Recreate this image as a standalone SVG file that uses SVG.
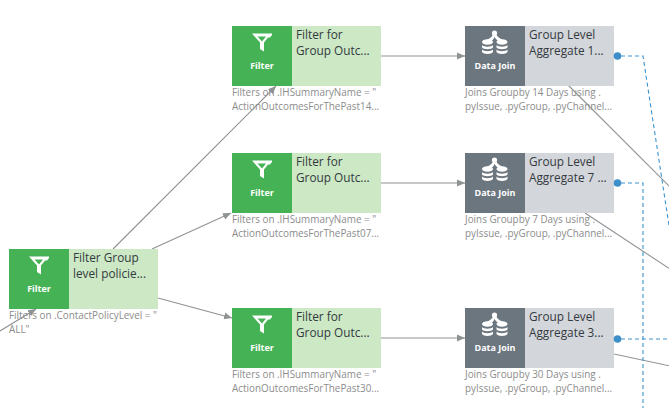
<svg xmlns="http://www.w3.org/2000/svg" width="669" height="408" viewBox="0 0 669 408">
  <style>
    text { font-family: "Open Sans", "Noto Sans", sans-serif; }
    .filter-body { fill: #cce8c4; }
    .filter-icon { fill: #45b355; }
    .join-body { fill: #d3d6da; }
    .join-icon { fill: #6c767f; }
    .title { font-size: 11.8px; fill: #333a3f; }
    .note { font-size: 9.9px; fill: #8c8c8c; }
    .kind { font-size: 9px; font-weight: 700; fill: #ffffff; text-anchor: middle; }
    .link { fill: none; stroke: #8f9394; stroke-width: 1.1; }
    .data { fill: none; stroke: #3d93cf; stroke-width: 1.1; stroke-dasharray: 4 3; }
    .port { fill: #3d8fc9; }
  </style>
  <defs>
    <marker id="tip" markerUnits="userSpaceOnUse" markerWidth="9" markerHeight="8" refX="8" refY="4" orient="auto">
      <path d="M0 0.5L8 4L0 7.5Z" fill="#8f9394"/>
    </marker>
    <!-- funnel glyph, origin at the top left of the 60x60 tile -->
    <g id="funnel">
      <path d="M20 7.500H40V9L38 11.500H36L32 16.500V25.500L28 23V16.500Z" fill="#fff"/>
      <path d="M25.500 10.500H34L30 15.500Z" fill="#45b355"/>
    </g>
    <!-- joined cylinders glyph, same origin -->
    <g id="cylinders" fill="#fff">
      <circle cx="29.500" cy="7" r="2.600"/>
      <path d="M28 8C27.500 11 24 13 20.500 14.500L24 16C27 15 29 13 29.500 11C30.500 13 33 15 36 16L39 14.500C35.500 13 32 11 31 8Z"/>
      <ellipse cx="22.500" cy="16" rx="5.500" ry="2.800"/>
      <ellipse cx="37" cy="16" rx="5.500" ry="2.800"/>
      <path d="M17 19C18.500 21.200 26.500 21.200 28 19V21.500C26.500 23.700 18.500 23.700 17 21.500Z"/>
      <path d="M31.500 19C33 21.200 41 21.200 42.500 19V21.500C41 23.700 33 23.700 31.500 21.500Z"/>
      <path d="M17 23.500C18.500 25.700 26.500 25.700 28 23.500V26C26.500 28.500 18.500 28.500 17 26Z"/>
      <path d="M31.500 23.500C33 25.700 41 25.700 42.500 23.500V26C41 28.500 33 28.500 31.500 26Z"/>
    </g>
  </defs>

  <g id="connectors">
    <path class="link" d="M0 331L36 309" marker-end="url(#tip)"/>
    <path class="link" d="M113 249L276 86" marker-end="url(#tip)"/>
    <path class="link" d="M152 249L231 213" marker-end="url(#tip)"/>
    <path class="link" d="M158 298L232 318" marker-end="url(#tip)"/>
    <path class="link" d="M381 56H465" marker-end="url(#tip)"/>
    <path class="link" d="M381 183H465" marker-end="url(#tip)"/>
    <path class="link" d="M381 338H465" marker-end="url(#tip)"/>
    <path class="link" d="M568 85L670 187"/>
    <path class="link" d="M585 213L670 269"/>
    <path class="link" d="M614 354L670 366"/>
    <path class="data" d="M621 56H643L670 232"/>
    <path class="data" d="M621 183H643V408"/>
    <path class="data" d="M621 339H670"/>
  </g>

  <g id="filter-group-policies" transform="translate(9 249)">
    <rect class="filter-body" width="149" height="60"/>
    <rect class="filter-icon" width="60" height="60"/>
    <use href="#funnel"/>
    <text class="kind" x="30" y="43">Filter</text>
    <text class="title" x="64" y="13">Filter Group</text>
    <text class="title" x="64" y="29">level policie...</text>
    <text class="note" x="0" y="70">Filters on .ContactPolicyLevel = "</text>
    <text class="note" x="0" y="84">ALL"</text>
  </g>

  <g id="filter-outcomes-14" transform="translate(232 26)">
    <rect class="filter-body" width="149" height="60"/>
    <rect class="filter-icon" width="60" height="60"/>
    <use href="#funnel"/>
    <text class="kind" x="30" y="43">Filter</text>
    <text class="title" x="64" y="13">Filter for</text>
    <text class="title" x="64" y="29">Group Outc...</text>
    <text class="note" x="0" y="70">Filters on .IHSummaryName = "</text>
    <text class="note" x="0" y="84">ActionOutcomesForThePast14...</text>
  </g>

  <g id="filter-outcomes-07" transform="translate(232 153)">
    <rect class="filter-body" width="149" height="60"/>
    <rect class="filter-icon" width="60" height="60"/>
    <use href="#funnel"/>
    <text class="kind" x="30" y="43">Filter</text>
    <text class="title" x="64" y="13">Filter for</text>
    <text class="title" x="64" y="29">Group Outc...</text>
    <text class="note" x="0" y="70">Filters on .IHSummaryName = "</text>
    <text class="note" x="0" y="84">ActionOutcomesForThePast07...</text>
  </g>

  <g id="filter-outcomes-30" transform="translate(232 308)">
    <rect class="filter-body" width="149" height="60"/>
    <rect class="filter-icon" width="60" height="60"/>
    <use href="#funnel"/>
    <text class="kind" x="30" y="43">Filter</text>
    <text class="title" x="64" y="13">Filter for</text>
    <text class="title" x="64" y="29">Group Outc...</text>
    <text class="note" x="0" y="70">Filters on .IHSummaryName = "</text>
    <text class="note" x="0" y="84">ActionOutcomesForThePast30...</text>
  </g>

  <g id="join-aggregate-14" transform="translate(465 26)">
    <rect class="join-body" width="149" height="60"/>
    <rect class="join-icon" width="60" height="60"/>
    <use href="#cylinders"/>
    <text class="kind" x="30" y="43">Data Join</text>
    <text class="title" x="64" y="13">Group Level</text>
    <text class="title" x="64" y="29">Aggregate 1...</text>
    <text class="note" x="0" y="70">Joins Groupby 14 Days using .</text>
    <text class="note" x="0" y="84">pyIssue, .pyGroup, .pyChannel...</text>
    <circle class="port" cx="152.500" cy="30" r="3.800"/>
  </g>

  <g id="join-aggregate-7" transform="translate(465 153)">
    <rect class="join-body" width="149" height="60"/>
    <rect class="join-icon" width="60" height="60"/>
    <use href="#cylinders"/>
    <text class="kind" x="30" y="43">Data Join</text>
    <text class="title" x="64" y="13">Group Level</text>
    <text class="title" x="64" y="29">Aggregate 7 ...</text>
    <text class="note" x="0" y="70">Joins Groupby 7 Days using .</text>
    <text class="note" x="0" y="84">pyIssue, .pyGroup, .pyChannel...</text>
    <circle class="port" cx="152.500" cy="30" r="3.800"/>
  </g>

  <g id="join-aggregate-30" transform="translate(465 308)">
    <rect class="join-body" width="149" height="60"/>
    <rect class="join-icon" width="60" height="60"/>
    <use href="#cylinders"/>
    <text class="kind" x="30" y="43">Data Join</text>
    <text class="title" x="64" y="13">Group Level</text>
    <text class="title" x="64" y="29">Aggregate 3...</text>
    <text class="note" x="0" y="70">Joins Groupby 30 Days using .</text>
    <text class="note" x="0" y="84">pyIssue, .pyGroup, .pyChannel...</text>
    <circle class="port" cx="152.500" cy="31" r="3.800"/>
  </g>
</svg>
